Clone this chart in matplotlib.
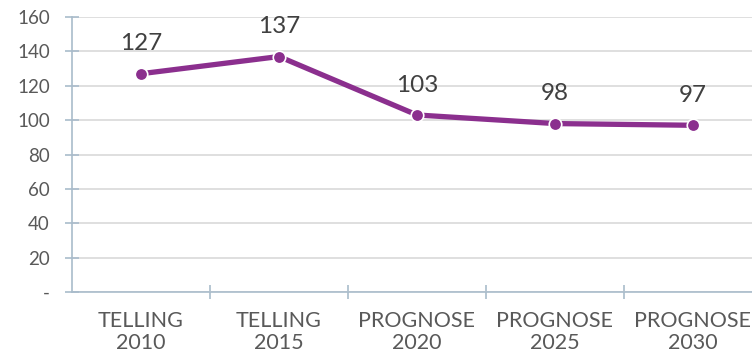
import matplotlib.pyplot as plt

categories = ['TELLING\n2010', 'TELLING\n2015', 'PROGNOSE\n2020', 'PROGNOSE\n2025', 'PROGNOSE\n2030']
values = [127, 137, 103, 98, 97]
yticks = [0, 20, 40, 60, 80, 100, 120, 140, 160]
ytick_labels = ['-', '20', '40', '60', '80', '100', '120', '140', '160']

plt.rcParams['font.family'] = ['Lato', 'DejaVu Sans']
purple = '#8B2F8E'
axis_col = '#A9BCCB'

fig = plt.figure(figsize=(7.52, 3.54), dpi=100)
ax = fig.add_axes([72 / 752, 62 / 354, 680 / 752, 275 / 354])

x = list(range(len(values)))
ax.plot(x, values, color=purple, linewidth=3.8, marker='o', markersize=9,
        markerfacecolor=purple, markeredgecolor='white', markeredgewidth=1.2,
        solid_capstyle='round', zorder=3)
for xi, v in zip(x, values):
    ax.annotate(str(v), (xi, v), xytext=(0, 14), textcoords='offset points',
                ha='center', va='bottom', fontsize=17.5, color='#404040')

ax.set_ylim(0, 160)
ax.set_xlim(-0.5, -0.5 + 680 / 138)
ax.set_yticks(yticks)
ax.set_yticklabels(ytick_labels)
ax.set_xticks(x)
ax.set_xticklabels(categories)
ax.set_xticks([i + 0.5 for i in range(4)], minor=True)

ax.grid(axis='y', color='#D9D9D9', linewidth=1.2)
ax.set_axisbelow(True)
for s in ['top', 'right']:
    ax.spines[s].set_visible(False)
for s in ['left', 'bottom']:
    ax.spines[s].set_color(axis_col)
    ax.spines[s].set_linewidth(1.2)

ax.tick_params(axis='y', which='major', direction='inout', length=10, color=axis_col,
               width=1.2, labelsize=13.5, labelcolor='#595959', pad=11)
ax.tick_params(axis='x', which='major', length=0, labelsize=15.5,
               labelcolor='#595959', pad=14)
ax.tick_params(axis='x', which='minor', direction='inout', length=10,
               color=axis_col, width=1.2)
for lab in ax.get_xticklabels():
    lab.set_linespacing(1.1)

fig.savefig('out.png', dpi=100)
